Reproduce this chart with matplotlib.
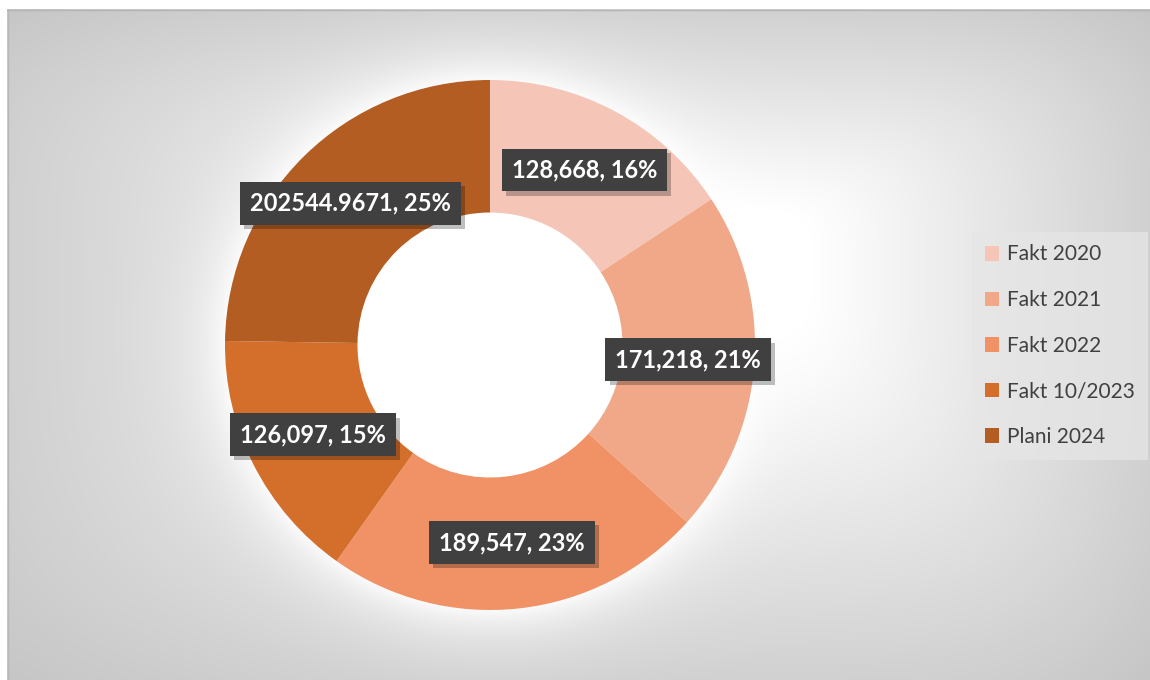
import numpy as np
import matplotlib
matplotlib.use('Agg')
from matplotlib import pyplot as plt
from matplotlib.patches import Patch
from matplotlib import patheffects as pe

labels = ['Fakt 2020', 'Fakt 2021', 'Fakt 2022', 'Fakt 10/2023', 'Plani 2024']
values = [128668, 171218, 189547, 126097, 202544.9671]
colors = ['#F5C6B7', '#F0A889', '#F09265', '#D46E2B', '#B45D22']


def value_text(v):
    if float(v).is_integer():
        return '{:,.0f}'.format(v)
    return str(v)


def background(fig, pcx, pcy, pr):
    # grey "path" gradient, plus a soft white glow round the ring
    W, H = 1143, 671
    cx, cy = 720, 250
    xs = np.arange(W)[None, :]
    ys = np.arange(H)[:, None]
    dx = np.where(xs < cx, (cx - xs) / cx, (xs - cx) / (W - cx))
    dy = np.where(ys < cy, (cy - ys) / cy, (ys - cy) / (H - cy))
    d = (dx ** 4 + dy ** 4) ** 0.25
    g = 255 - 58 * np.clip((d - 0.2) / 1.0, 0, 1)
    dist = np.hypot(xs + 7 - pcx, ys + 9 - pcy)
    glow = 0.85 * np.exp(-np.clip(dist - pr, 0, None) / 30.0)
    glow[dist < pr - 5] = 1.0
    g = g + (255 - g) * glow
    img = np.dstack([g, g, g]) / 255.0
    bg = fig.add_axes([7 / 1150, 0, W / 1150, H / 680])
    bg.imshow(img, aspect='auto', interpolation='bilinear')
    bg.axis('off')
    bg.plot([0, W - 1], [0.5, 0.5], color='#b4b4b4', lw=1)
    bg.plot([0.5, 0.5], [0, H - 1], color='#b8b8b8', lw=1)
    bg.set_xlim(0, W - 1)
    bg.set_ylim(H - 1, 0)


def main():
    fig = plt.figure(figsize=(11.5, 6.8), dpi=100)
    r = 265
    cx, cy = 490, 345
    background(fig, cx, cy, r)

    ax = fig.add_axes([(cx - r) / 1150, (680 - cy - r) / 680, 2 * r / 1150, 2 * r / 680])
    wedges, _ = ax.pie(values, colors=colors, startangle=90, counterclock=False,
                       radius=1, wedgeprops=dict(width=0.5, linewidth=0))
    ax.set_xlim(-1, 1)
    ax.set_ylim(-1, 1)
    ax.set_aspect('equal')
    ax.axis('off')

    total = sum(values)
    for w, v in zip(wedges, values):
        ang = np.deg2rad((w.theta1 + w.theta2) / 2)
        x, y = 0.75 * np.cos(ang), 0.75 * np.sin(ang)
        txt = '{}, {:.0f}%'.format(value_text(v), v / total * 100)
        t = ax.text(x, y, txt, ha='center', va='center', fontsize=17, fontweight='bold',
                    family='Lato', color='white',
                    bbox=dict(boxstyle='square,pad=0.42', fc='#404040', ec='none'))
        t.get_bbox_patch().set_path_effects([
            pe.SimplePatchShadow(offset=(3, -3), shadow_rgbFace='black', alpha=0.25),
            pe.Normal()])

    handles = [Patch(facecolor=c, edgecolor='none') for c in colors]
    leg = fig.legend(handles, labels, loc='upper left', bbox_to_anchor=(972 / 1150, 1 - 232 / 680),
                     prop={'family': 'Lato', 'size': 15}, frameon=True, fancybox=False,
                     handlelength=0.7, handleheight=0.7, handletextpad=0.4,
                     labelspacing=1.23, borderpad=0.6, borderaxespad=0)
    leg.get_frame().set_facecolor('#e6e6e6')
    leg.get_frame().set_alpha(0.75)
    leg.get_frame().set_edgecolor('none')
    for t in leg.get_texts():
        t.set_color('#404040')

    fig.savefig('out.png', dpi=100, facecolor='white')


if __name__ == '__main__':
    main()
